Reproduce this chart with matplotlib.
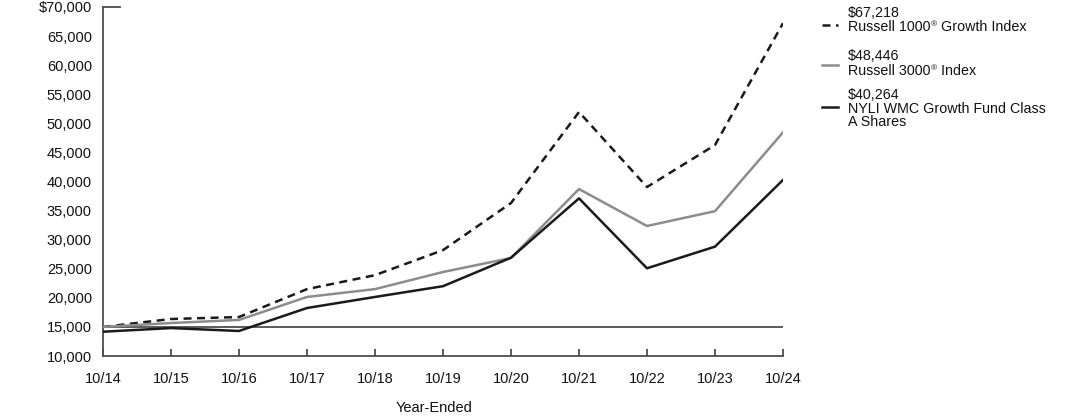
import matplotlib
matplotlib.use("Agg")
import matplotlib.pyplot as plt
from matplotlib.lines import Line2D

plt.rcParams['font.family'] = ['Liberation Sans', 'DejaVu Sans']

years = ["10/14", "10/15", "10/16", "10/17", "10/18", "10/19", "10/20", "10/21", "10/22", "10/23", "10/24"]
russell1000g = [15000, 16360, 16700, 21500, 23900, 28200, 36300, 51950, 39050, 46270, 67218]
russell3000 = [15000, 15670, 16200, 20150, 21500, 24440, 26850, 38700, 32350, 34900, 48446]
fund = [14175, 14800, 14300, 18250, 20150, 22000, 26900, 37100, 25080, 28800, 40264]
baseline = 15000
yticks = [10000, 15000, 20000, 25000, 30000, 35000, 40000, 45000, 50000, 55000, 60000, 65000, 70000]
legend_values = ["$67,218", "$48,446", "$40,264"]
# each legend name: list of lines; each line is a list of (text, superscript?) segments
legend_names = [
    [[("Russell 1000", False), ("®", True), (" Growth Index", False)]],
    [[("Russell 3000", False), ("®", True), (" Index", False)]],
    [[("NYLI WMC Growth Fund Class", False)], [("A Shares", False)]],
]

FS = 10.5
LFS = 10.3
fig = plt.figure(figsize=(10.92, 4.17), dpi=100)
ax = fig.add_axes([103/1092, 1-356/417, 680/1092, 349/417])
x = list(range(len(years)))
axis_col = "#4d4d4d"
ax.axhline(baseline, color=axis_col, lw=1.3, zorder=1)
ax.plot(x, russell1000g, color="#1a1a1a", lw=1.8, ls=(0, (3.2, 2.2)), zorder=3)
ax.plot(x, russell3000, color="#8c8c8c", lw=1.8, zorder=3)
ax.plot(x, fund, color="#1a1a1a", lw=1.8, zorder=4)

ax.set_xlim(0, len(years)-1)
ax.set_ylim(10000, 70000)
ax.set_xticks(x)
ax.set_xticklabels(years, fontsize=FS, color="#111")
ax.set_yticks(yticks)
ax.set_yticklabels([("$" if v == 70000 else "") + f"{v:,}" for v in yticks], fontsize=FS, color="#111")
ax.tick_params(axis='x', direction='in', length=5, width=1.3, color=axis_col, pad=11.5)
ax.tick_params(axis='y', length=0, pad=8)
for s in ["top", "right"]:
    ax.spines[s].set_visible(False)
for s in ["left", "bottom"]:
    ax.spines[s].set_color(axis_col)
    ax.spines[s].set_linewidth(1.3)
# small top marker line at 70,000
ax.plot([0, 0.25], [70000, 70000], color=axis_col, lw=1.3, clip_on=False, zorder=5)

fig.text(434/1092, 1-408/417, "Year-Ended", ha="center", va="center", fontsize=FS, color="#111")

# legend
renderer = fig.canvas.get_renderer()
styles = [dict(color="#1a1a1a", ls=(0, (3.2, 2.2))), dict(color="#8c8c8c", ls="-"), dict(color="#1a1a1a", ls="-")]
val_base = [17, 60, 99]
name_base = [31, 75, 113]
line_y = [25, 65, 107]
W, H = 1092, 417
for v, lines, st, vb, nb, ly in zip(legend_values, legend_names, styles, val_base, name_base, line_y):
    fig.text(848/W, 1-vb/H, v, ha="left", va="baseline", fontsize=LFS, color="#111")
    for i, segs in enumerate(lines):
        xpix = 848
        ybase = nb + 13*i
        for txt, sup in segs:
            if sup:
                t = fig.text(xpix/W, 1-(ybase-5)/H, txt, ha="left", va="baseline", fontsize=6, color="#111")
            else:
                t = fig.text(xpix/W, 1-ybase/H, txt, ha="left", va="baseline", fontsize=LFS, color="#111")
            bb = t.get_window_extent(renderer)
            xpix += bb.width
    fig.add_artist(Line2D([822/W, 838/W], [1-ly/H, 1-ly/H], lw=1.8, transform=fig.transFigure, **st))

fig.savefig("out.png", dpi=100)
